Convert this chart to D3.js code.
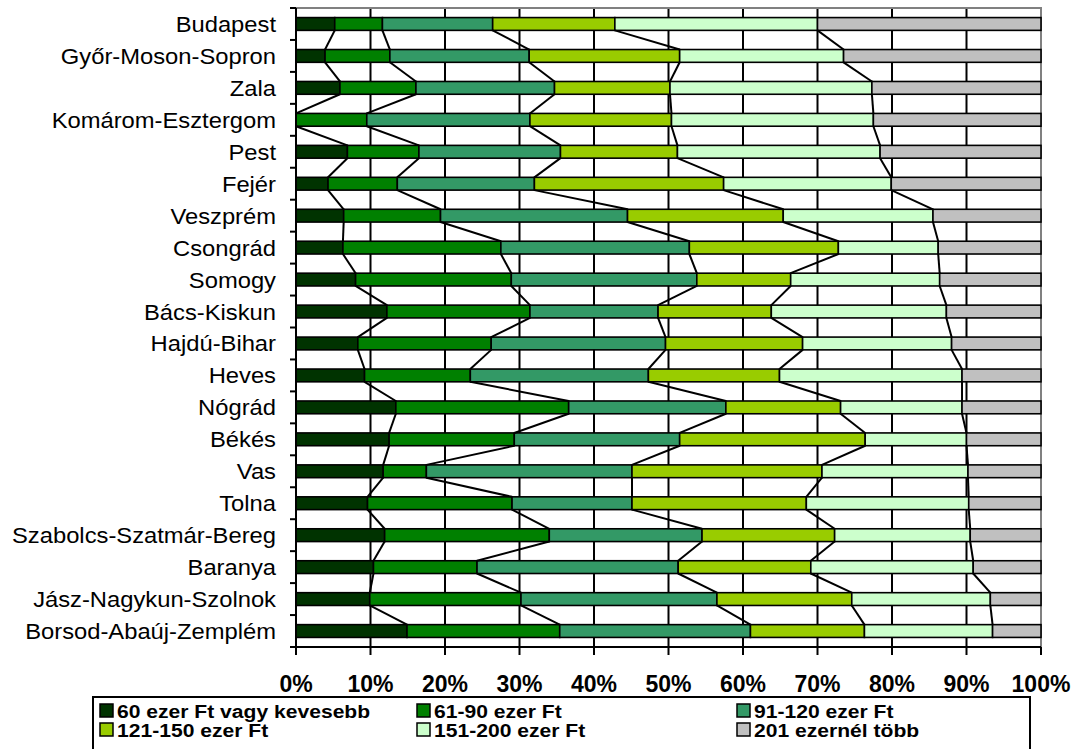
<!DOCTYPE html>
<html><head><meta charset="utf-8">
<script src="https://cdn.jsdelivr.net/npm/d3@7"></script>
<style>
html,body{margin:0;padding:0;background:#fff;}
svg{display:block;font-family:"Liberation Sans",Arial,sans-serif;}
</style></head>
<body>
<svg id="chart" width="1077" height="749"></svg>
<script>
const categories = ["Budapest","Győr-Moson-Sopron","Zala","Komárom-Esztergom","Pest","Fejér","Veszprém","Csongrád","Somogy","Bács-Kiskun","Hajdú-Bihar","Heves","Nógrád","Békés","Vas","Tolna","Szabolcs-Szatmár-Bereg","Baranya","Jász-Nagykun-Szolnok","Borsod-Abaúj-Zemplém"];
const seriesNames = ["60 ezer Ft vagy kevesebb","61-90 ezer Ft","91-120 ezer Ft","121-150 ezer Ft","151-200 ezer Ft","201 ezernél több"];
const s60   = [5.2,3.9,5.9,0.0,6.9,4.3,6.4,6.3,8.0,12.2,8.3,9.2,13.4,12.5,11.7,9.6,11.9,10.4,9.9,14.9];
const s90   = [6.4,8.7,10.2,9.5,9.6,9.3,13.0,21.2,20.9,19.2,17.9,14.2,23.2,16.8,5.8,19.4,22.1,13.9,20.3,20.5];
const s120  = [14.8,18.7,18.6,21.9,19.0,18.4,25.1,25.3,24.9,17.2,23.4,23.9,21.1,22.2,27.6,16.1,20.5,27.0,26.3,25.6];
const s150  = [16.4,20.2,15.5,19.0,15.7,25.4,20.9,20.0,12.6,15.2,18.4,17.6,15.4,24.9,25.5,23.4,17.8,17.8,18.1,15.3];
const s200  = [27.2,22.0,27.1,27.1,27.2,22.5,20.1,13.4,20.0,23.5,20.0,24.5,16.3,13.6,19.6,21.8,18.2,21.8,18.6,17.2];
const s201  = [30.0,26.5,22.7,22.5,21.6,20.1,14.5,13.8,13.6,12.7,12.0,10.6,10.6,10.0,9.8,9.7,9.5,9.1,6.8,6.5];
const tickValues = [0,10,20,30,40,50,60,70,80,90,100];
const tickLabels = ["0%","10%","20%","30%","40%","50%","60%","70%","80%","90%","100%"];
const colors = ["#003300","#008000","#339966","#99CC00","#CCFFCC","#C0C0C0"];

const allSeries = [s60,s90,s120,s150,s200,s201];
const keys = seriesNames;
const table = categories.map((c,i)=>{
  const o = {cat:c};
  keys.forEach((k,j)=>{ o[k] = allSeries[j][i]; });
  return o;
});
const stacked = d3.stack().keys(keys)(table);

const svg = d3.select("#chart");
const L = 296, R = 1041, T = 8, B = 647;
const x = d3.scaleLinear().domain([0,100]).range([L,R]);
const y = d3.scaleBand().domain(categories).range([T,B]).paddingInner(0.6).paddingOuter(0.3);

// vertical gridlines
svg.append("g").selectAll("line").data(tickValues.slice(1,-1)).join("line")
  .attr("x1",d=>x(d)).attr("x2",d=>x(d)).attr("y1",T).attr("y2",B)
  .attr("stroke","#000").attr("stroke-width",2);

// plot border (top/right)
svg.append("path").attr("d",`M${L},${T}H${R}V${B}`).attr("fill","none").attr("stroke","#808080").attr("stroke-width",2);

// bars
stacked.forEach((layer,j)=>{
  svg.append("g").selectAll("rect").data(layer).join("rect")
    .attr("x",d=>x(d[0])).attr("width",d=>x(d[1])-x(d[0]))
    .attr("y",d=>y(d.data.cat)).attr("height",y.bandwidth())
    .attr("fill",colors[j]).attr("stroke","#000").attr("stroke-width",1.6);
});

// series lines
stacked.slice(0,5).forEach((layer)=>{
  const segs = [];
  for(let i=0;i<layer.length-1;i++){
    segs.push({x1:x(layer[i][1]),y1:y(categories[i])+y.bandwidth(),x2:x(layer[i+1][1]),y2:y(categories[i+1])});
  }
  svg.append("g").selectAll("line").data(segs).join("line")
    .attr("x1",d=>d.x1).attr("y1",d=>d.y1).attr("x2",d=>d.x2).attr("y2",d=>d.y2)
    .attr("stroke","#000").attr("stroke-width",2);
});

// y axis
const yTicks = d3.range(categories.length+1).map(i=>T + i*(B-T)/categories.length);
svg.append("line").attr("x1",L).attr("x2",L).attr("y1",T).attr("y2",B).attr("stroke","#000").attr("stroke-width",2);
svg.append("g").selectAll("line").data(yTicks).join("line")
  .attr("x1",L-6).attr("x2",L).attr("y1",d=>d).attr("y2",d=>d).attr("stroke","#000").attr("stroke-width",2);
svg.append("g").selectAll("text").data(categories).join("text")
  .attr("transform",d=>`translate(276,${y(d)+y.bandwidth()/2}) scale(1.07,1)`).attr("dy","0.36em")
  .attr("text-anchor","end").attr("font-size",22.2).attr("fill","#000").text(d=>d);

// x axis
svg.append("line").attr("x1",L).attr("x2",R).attr("y1",B).attr("y2",B).attr("stroke","#000").attr("stroke-width",2);
svg.append("g").selectAll("line").data(tickValues).join("line")
  .attr("x1",d=>x(d)).attr("x2",d=>x(d)).attr("y1",B).attr("y2",B+8).attr("stroke","#000").attr("stroke-width",2);
svg.append("g").selectAll("text").data(tickValues).join("text")
  .attr("x",d=>x(d)).attr("y",692).attr("text-anchor","middle")
  .attr("font-size",23).attr("font-weight","bold").attr("fill","#000").text((d,i)=>tickLabels[i]);

// legend
const lg = svg.append("g");
lg.append("rect").attr("x",93).attr("y",697).attr("width",937).attr("height",60)
  .attr("fill","#fff").attr("stroke","#000").attr("stroke-width",2);
const colX = [100,417,737];
const rowY = [718,737];
seriesNames.forEach((n,j)=>{
  const cx = colX[j%3], ry = rowY[Math.floor(j/3)];
  lg.append("rect").attr("x",cx).attr("y",ry-14).attr("width",13).attr("height",13)
    .attr("fill",colors[j]).attr("stroke","#000").attr("stroke-width",1.5);
  lg.append("text").attr("transform",`translate(${cx+17},${ry}) scale(1.14,1)`)
    .attr("font-size",18.5).attr("font-weight","bold")
    .attr("fill","#000").text(n);
});
</script>
</body></html>
